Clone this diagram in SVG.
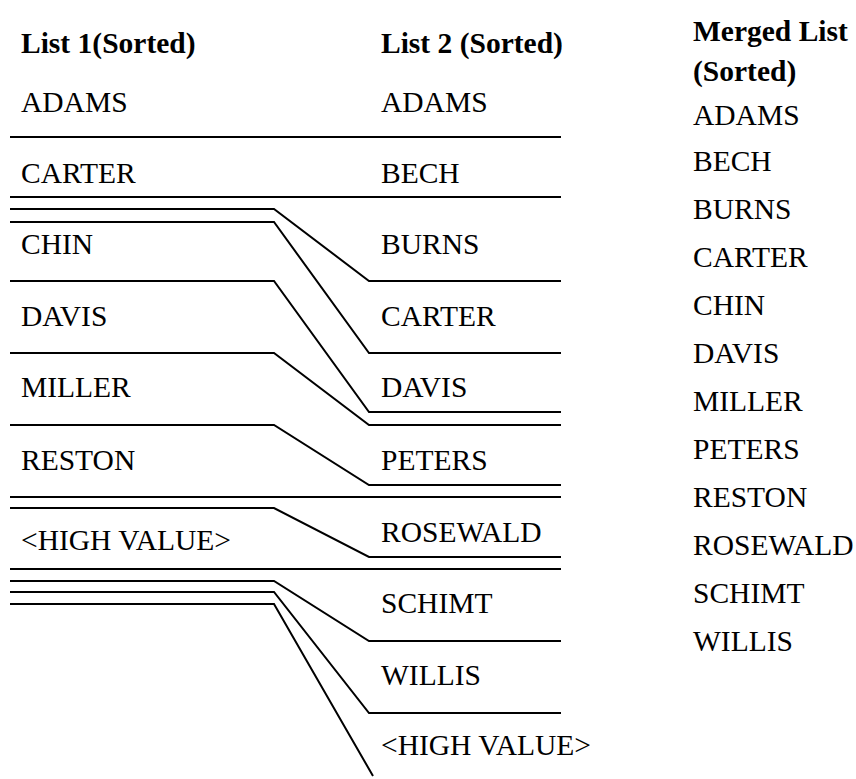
<svg xmlns="http://www.w3.org/2000/svg" width="856" height="779" viewBox="0 0 856 779">
  <style>
    .t { font-family: "Liberation Serif", "Times New Roman", serif; font-size: 29.5px; fill: #000; }
    .h { font-weight: bold; }
    .ln { fill: none; stroke: #000; stroke-width: 2; stroke-linejoin: miter; }
  </style>
  <rect width="856" height="779" fill="#fff"/>

  <!-- column headers -->
  <g id="headers">
    <text class="t h" x="21" y="53">List 1(Sorted)</text>
    <text class="t h" x="381" y="53">List 2 (Sorted)</text>
    <text class="t h" x="693" y="41">Merged List</text>
    <text class="t h" x="693" y="81">(Sorted)</text>
  </g>

  <!-- first input list -->
  <g id="list1">
    <g id="l1-adams"><text class="t" x="21" y="112">ADAMS</text></g>
    <g id="l1-carter"><text class="t" x="21" y="183">CARTER</text></g>
    <g id="l1-chin"><text class="t" x="21" y="254">CHIN</text></g>
    <g id="l1-davis"><text class="t" x="21" y="326">DAVIS</text></g>
    <g id="l1-miller"><text class="t" x="21" y="397">MILLER</text></g>
    <g id="l1-reston"><text class="t" x="21" y="470">RESTON</text></g>
    <g id="l1-high"><text class="t" x="21" y="550">&lt;HIGH VALUE&gt;</text></g>
  </g>

  <!-- second input list -->
  <g id="list2">
    <g id="l2-adams"><text class="t" x="381" y="112">ADAMS</text></g>
    <g id="l2-bech"><text class="t" x="381" y="183">BECH</text></g>
    <g id="l2-burns"><text class="t" x="381" y="254">BURNS</text></g>
    <g id="l2-carter"><text class="t" x="381" y="326">CARTER</text></g>
    <g id="l2-davis"><text class="t" x="381" y="397">DAVIS</text></g>
    <g id="l2-peters"><text class="t" x="381" y="470">PETERS</text></g>
    <g id="l2-rosewald"><text class="t" x="381" y="542">ROSEWALD</text></g>
    <g id="l2-schimt"><text class="t" x="381" y="613">SCHIMT</text></g>
    <g id="l2-willis"><text class="t" x="381" y="685">WILLIS</text></g>
    <g id="l2-high"><text class="t" x="381" y="755">&lt;HIGH VALUE&gt;</text></g>
  </g>

  <!-- merged output -->
  <g id="merged">
    <g id="m-adams"><text class="t" x="693" y="125">ADAMS</text></g>
    <g id="m-bech"><text class="t" x="693" y="171">BECH</text></g>
    <g id="m-burns"><text class="t" x="693" y="219">BURNS</text></g>
    <g id="m-carter"><text class="t" x="693" y="267">CARTER</text></g>
    <g id="m-chin"><text class="t" x="693" y="315">CHIN</text></g>
    <g id="m-davis"><text class="t" x="693" y="363">DAVIS</text></g>
    <g id="m-miller"><text class="t" x="693" y="411">MILLER</text></g>
    <g id="m-peters"><text class="t" x="693" y="459">PETERS</text></g>
    <g id="m-reston"><text class="t" x="693" y="507">RESTON</text></g>
    <g id="m-rosewald"><text class="t" x="693" y="555">ROSEWALD</text></g>
    <g id="m-schimt"><text class="t" x="693" y="603">SCHIMT</text></g>
    <g id="m-willis"><text class="t" x="693" y="651">WILLIS</text></g>
  </g>

  <!-- record boundaries and the merge links between them -->
  <g id="connectors" class="ln">
    <path d="M10,137 H561"/>
    <path d="M10,197 H561"/>
    <path d="M10,209 H274 L369,281 H561"/>
    <path d="M10,222 H274 L369,353 H561"/>
    <path d="M10,281 H274 L369,412 H561"/>
    <path d="M10,353 H274 L369,425 H561"/>
    <path d="M10,425 H274 L369,485 H561"/>
    <path d="M10,497 H561"/>
    <path d="M10,508 H274 L369,557 H561"/>
    <path d="M10,569 H561"/>
    <path d="M10,581 H274 L369,641 H561"/>
    <path d="M10,592 H274 L369,713 H561"/>
    <path d="M10,604 H274 L373,776"/>
  </g>
</svg>
